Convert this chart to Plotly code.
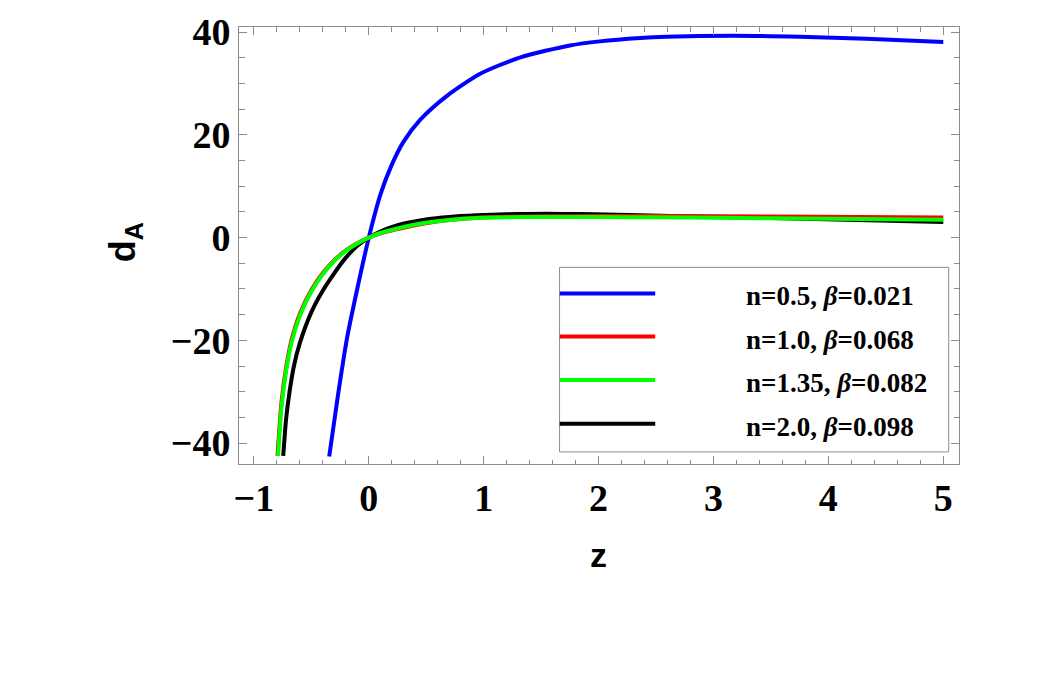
import plotly.graph_objects as go

# ---- data ----
blue_z = [-0.345, -0.30, -0.26, -0.19, -0.10, 0.0, 0.10, 0.20, 0.30, 0.45, 0.68, 0.97, 1.32, 1.75, 2.01, 2.36, 2.59, 3.17, 3.75, 4.33, 5.0]
blue_d = [-42.6, -35.6, -29.4, -19.6, -9.9, 0.0, 8.3, 14.2, 18.6, 23.0, 27.6, 31.9, 35.1, 37.4, 38.2, 38.85, 39.1, 39.3, 39.1, 38.7, 38.1]

red_z = [-0.795, -0.76, -0.72, -0.67, -0.6, -0.5, -0.4, -0.3, -0.2, -0.1, 0.0, 0.1, 0.217, 0.35, 0.51, 0.7, 0.94, 1.2, 1.5, 2.0, 2.5, 3.5, 5.0]
red_d = [-42.5, -32.0, -25.3, -19.7, -14.8, -10.2, -6.9, -4.4, -2.5, -1.1, 0.0, 0.85, 1.50, 2.15, 2.85, 3.42, 3.85, 4.05, 4.15, 4.2, 4.22, 4.1, 3.9]

green_z = [-0.79, -0.76, -0.72, -0.67, -0.6, -0.5, -0.4, -0.3, -0.2, -0.1, 0.0, 0.1, 0.217, 0.35, 0.51, 0.7, 0.94, 1.2, 1.5, 2.0, 2.5, 3.5, 5.0]
green_d = [-42.5, -33.0, -26.0, -20.2, -15.2, -10.5, -7.1, -4.5, -2.6, -1.15, 0.0, 0.9, 1.6, 2.3, 2.94, 3.45, 3.82, 3.96, 4.02, 4.02, 3.95, 3.75, 3.5]

black_z = [-0.745, -0.72, -0.69, -0.65, -0.6, -0.5, -0.4, -0.3, -0.2, -0.1, 0.0, 0.1, 0.217, 0.35, 0.51, 0.7, 0.94, 1.2, 1.38, 1.7, 1.96, 2.54, 3.5, 5.0]
black_d = [-42.5, -35.3, -30.0, -24.8, -20.5, -14.5, -10.3, -6.9, -3.9, -1.6, 0.0, 1.2, 2.2, 2.95, 3.6, 4.02, 4.34, 4.56, 4.62, 4.62, 4.55, 4.28, 3.8, 3.06]

labels = ["n=0.5, <i>β</i>=0.021", "n=1.0, <i>β</i>=0.068", "n=1.35, <i>β</i>=0.082", "n=2.0, <i>β</i>=0.098"]
colors = ["#0000ff", "#ff0000", "#00ff00", "#000000"]

x_range = [-1.13, 5.137]
y_range = [-44.07, 41.0]
x_ticks = [-1, 0, 1, 2, 3, 4, 5]
y_ticks = [-40, -20, 0, 20, 40]

W, H = 1042, 682
L, R, T, B = 238.5, 959.0, 18.0, 464.0


def px(x):
    return (x - L) / (R - L)


def py(y):
    return (B - y) / (B - T)


fig = go.Figure()
series = [(blue_z, blue_d, colors[0], labels[0]), (black_z, black_d, colors[3], labels[3]),
          (red_z, red_d, colors[1], labels[1]), (green_z, green_d, colors[2], labels[2])]
for zz, dd, c, nm in series:
    fig.add_trace(go.Scatter(x=zz, y=dd, mode="lines", name=nm, showlegend=False,
                             line=dict(color=c, width=4, shape="spline", smoothing=0.7)))

axis_gray = "#8c8c8c"
tickfont = dict(family="Liberation Serif", size=38, color="black", weight="bold")

fig.update_xaxes(range=x_range, tickvals=x_ticks, ticks="inside", ticklen=8, tickcolor=axis_gray,
                 showline=True, linecolor=axis_gray, linewidth=1, mirror="ticks",
                 showgrid=False, zeroline=False, tickfont=tickfont,
                 minor=dict(dtick=0.2, tick0=0, ticks="inside", ticklen=4.5, tickcolor=axis_gray, showgrid=False))
fig.update_yaxes(range=y_range, tickvals=y_ticks, ticks="inside", ticklen=8, tickcolor=axis_gray,
                 showline=True, linecolor=axis_gray, linewidth=1, mirror="ticks",
                 showgrid=False, zeroline=False, tickfont=tickfont,
                 minor=dict(dtick=5, tick0=0, ticks="inside", ticklen=5.5, tickcolor=axis_gray, showgrid=False))

shapes = []
annotations = []
# legend box
shapes.append(dict(type="rect", xref="paper", yref="paper", x0=px(559.3), x1=px(948.7),
                   y0=py(451.7), y1=py(263.3), line=dict(color=axis_gray, width=1), fillcolor="white"))
leg_y = [290, 334, 378.3, 423]
for lab, c, yy in zip(labels, colors, leg_y):
    shapes.append(dict(type="line", xref="paper", yref="paper", x0=px(559.5), x1=px(655),
                       y0=py(yy), y1=py(yy), line=dict(color=c, width=4)))
    annotations.append(dict(xref="paper", yref="paper", x=px(744), y=py(yy + 3), xanchor="left",
                            yanchor="middle", showarrow=False, text="<b>" + lab + "</b>",
                            font=dict(family="Liberation Serif", size=27, color="black")))

# axis titles
annotations.append(dict(xref="paper", yref="paper", x=px(598), y=py(557), xanchor="center", yanchor="middle",
                        showarrow=False, text="<b>z</b>",
                        font=dict(family="Liberation Sans", size=34, color="black")))
annotations.append(dict(xref="paper", yref="paper", x=px(124), y=py(238), xanchor="center", yanchor="middle",
                        showarrow=False, text="<b>d<sub>A</sub></b>", textangle=-90,
                        font=dict(family="Liberation Sans", size=36, color="black")))

fig.update_layout(width=W, height=H, margin=dict(l=L, r=W - R, t=T, b=H - B, pad=0),
                  paper_bgcolor="white", plot_bgcolor="white", shapes=shapes, annotations=annotations,
                  showlegend=False)

fig.write_html("out.html")
